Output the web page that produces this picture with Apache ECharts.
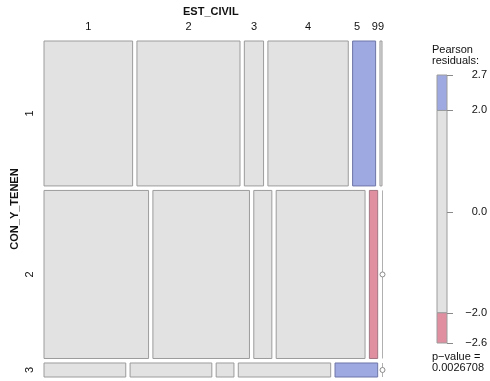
<!DOCTYPE html>
<html><head><meta charset="utf-8">
<script src="https://cdn.jsdelivr.net/npm/echarts@6/dist/echarts.min.js"></script>
<style>html,body{margin:0;padding:0;background:#fff}#c{width:490px;height:381px}</style>
</head><body><div id="c"></div>
<script>
// ---- data ----
const rowCats = ['1', '2', '3'];                 // CON_Y_TENEN
const colCats = ['1', '2', '3', '4', '5', '99']; // EST_CIVIL
const row1 = [258, 300, 56, 234, 67, 6];
const row2 = [353, 326, 61, 300, 28, 0];
const row3 = [23, 23, 5, 26, 12, 0];
const shade1 = [0, 0, 0, 0, 1, 0];   // 1 = residual > 2, -1 = residual < -2
const shade2 = [0, 0, 0, 0, -1, 0];
const shade3 = [0, 0, 0, 0, 1, 0];
const legendBreaks = [-2.6, -2.0, 2.0, 2.7];
const legendTicks = [-2.6, -2.0, 0.0, 2.0, 2.7];
const pValue = '0.0026708';

// ---- build layout ----
const table = [row1, row2, row3];
const shades = [shade1, shade2, shade3];
const N = table.reduce((a, r) => a + r.reduce((b, v) => b + v, 0), 0);
const gapX = 0.0128, gapY = 0.0134;
const cells = [];
let yy = 0;
table.forEach((row, r) => {
  const tot = row.reduce((b, v) => b + v, 0);
  const h = (1 - (table.length - 1) * gapY) * tot / N;
  let xx = 0;
  row.forEach((v, c) => {
    const w = (1 - (row.length - 1) * gapX) * v / tot;
    cells.push([xx, xx + w, yy, yy + h, shades[r][c], r, c]);
    xx += w + gapX;
  });
  yy += h + gapY;
});

const FILL = { '0': '#e2e2e2', '1': '#9ea8e1', '-1': '#e08fa0' };
const STROKE = { '0': '#9c9c9c', '1': '#6f77a8', '-1': '#a47684' };
const FONT = 'Liberation Sans, Arial, sans-serif';
const labelNudge = { 4: -7, 5: -3 };

const legendData = [];
for (let i = 0; i < legendBreaks.length - 1; i++) {
  const lo = legendBreaks[i], hi = legendBreaks[i + 1];
  legendData.push([lo, hi, hi <= -2 ? -1 : (lo >= 2 ? 1 : 0)]);
}
const tickData = legendTicks.map(v => [v]);

const chart = echarts.init(document.getElementById('c'), null, { renderer: 'canvas' });
chart.setOption({
  animation: false,
  grid: [
    { left: 44, top: 41, width: 338, height: 336 },
    { left: 437, top: 75, width: 10, height: 268 }
  ],
  xAxis: [
    { type: 'value', gridIndex: 0, min: 0, max: 1, show: false },
    { type: 'value', gridIndex: 1, min: 0, max: 1, show: false }
  ],
  yAxis: [
    { type: 'value', gridIndex: 0, min: 0, max: 1, inverse: true, show: false },
    { type: 'value', gridIndex: 1, min: -2.6, max: 2.7, position: 'right',
      splitLine: { show: false },
      axisLine: { show: false },
      axisTick: { show: false },
      axisLabel: { customValues: legendTicks, margin: 40, align: 'right', color: '#111',
        fontFamily: FONT, fontSize: 11,
        formatter: v => (v < 0 ? '\u2212' : '') + Math.abs(v).toFixed(1) } }
  ],
  series: [
    {
      type: 'custom', xAxisIndex: 0, yAxisIndex: 0, data: cells, clip: false,
      renderItem: function (params, api) {
        const x0 = api.value(0), x1 = api.value(1), y0 = api.value(2), y1 = api.value(3);
        const s = api.value(4), r = api.value(5), c = api.value(6);
        const p0 = api.coord([x0, y0]), p1 = api.coord([x1, y1]);
        const w = p1[0] - p0[0], h = p1[1] - p0[1];
        const ch = [];
        if (w < 0.5) {
          const xm = p0[0] + 0.5;
          ch.push({ type: 'line', shape: { x1: xm, y1: p0[1], x2: xm, y2: p1[1] },
            style: { stroke: '#b0b0b0', lineWidth: 1 } });
          ch.push({ type: 'circle', shape: { cx: xm, cy: (p0[1] + p1[1]) / 2, r: 2.5 },
            style: { fill: '#fff', stroke: '#8a8a8a', lineWidth: 1 } });
        } else {
          ch.push({ type: 'rect', shape: { x: p0[0], y: p0[1], width: w, height: h },
            style: { fill: FILL[String(s)], stroke: STROKE[String(s)], lineWidth: 1 } });
        }
        if (r === 0) {
          ch.push({ type: 'text', x: (p0[0] + p1[0]) / 2 + (labelNudge[c] || 0), y: p0[1] - 14,
            style: { text: colCats[c], fill: '#111', font: '11px ' + FONT, align: 'center', verticalAlign: 'middle' } });
        }
        if (c === 0) {
          ch.push({ type: 'text', x: p0[0] - 14, y: (p0[1] + p1[1]) / 2, rotation: Math.PI / 2,
            style: { text: rowCats[r], fill: '#111', font: '11px ' + FONT, align: 'center', verticalAlign: 'middle' } });
        }
        return { type: 'group', children: ch };
      }
    },
    {
      type: 'custom', xAxisIndex: 1, yAxisIndex: 1, data: legendData, clip: false,
      renderItem: function (params, api) {
        const lo = api.value(0), hi = api.value(1), s = api.value(2);
        const p0 = api.coord([0, hi]), p1 = api.coord([1, lo]);
        return { type: 'rect', shape: { x: p0[0], y: p0[1], width: p1[0] - p0[0], height: p1[1] - p0[1] },
          style: { fill: FILL[String(s)], stroke: '#9c9c9c', lineWidth: 1 } };
      }
    },
    {
      type: 'custom', xAxisIndex: 1, yAxisIndex: 1, data: tickData, clip: false,
      encode: { y: 0 },
      renderItem: function (params, api) {
        const p = api.coord([1, api.value(0)]);
        const y = Math.round(p[1]) + 0.5;
        return { type: 'line', shape: { x1: p[0], y1: y, x2: p[0] + 6, y2: y },
          style: { stroke: '#8a8a8a', lineWidth: 1 } };
      }
    }
  ],
  graphic: [
    { type: 'text', left: 183, top: 6, style: { text: 'EST_CIVIL', font: 'bold 11px ' + FONT, fill: '#111' } },
    { type: 'text', x: 15, y: 209, rotation: Math.PI / 2,
      style: { text: 'CON_Y_TENEN', font: 'bold 11px ' + FONT, fill: '#111', align: 'center', verticalAlign: 'middle' } },
    { type: 'text', left: 432, top: 44, style: { text: 'Pearson\nresiduals:', font: '11px ' + FONT, fill: '#111', lineHeight: 11 } },
    { type: 'text', left: 432, top: 351, style: { text: 'p\u2212value =\n' + pValue, font: '11px ' + FONT, fill: '#111', lineHeight: 11 } }
  ]
});
</script></body></html>
